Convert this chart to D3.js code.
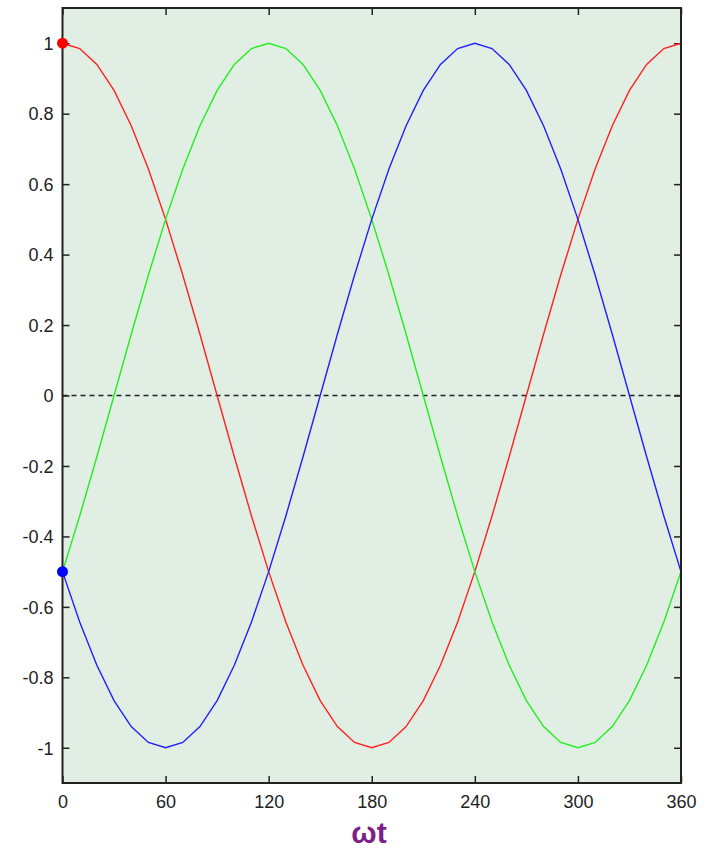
<!DOCTYPE html>
<html><head><meta charset="utf-8">
<script src="https://cdn.jsdelivr.net/npm/d3@7"></script>
<style>body{margin:0;background:#fff}</style>
</head><body>
<svg id="c" width="706" height="849"></svg>
<script>
const angles = [0,10,20,30,40,50,60,70,80,90,100,110,120,130,140,150,160,170,180,190,200,210,220,230,240,250,260,270,280,290,300,310,320,330,340,350,360];
const redVals = [1,0.985,0.94,0.866,0.766,0.643,0.5,0.342,0.174,0,-0.174,-0.342,-0.5,-0.643,-0.766,-0.866,-0.94,-0.985,-1,-0.985,-0.94,-0.866,-0.766,-0.643,-0.5,-0.342,-0.174,0,0.174,0.342,0.5,0.643,0.766,0.866,0.94,0.985,1];
const greenVals = [-0.5,-0.342,-0.174,0,0.174,0.342,0.5,0.643,0.766,0.866,0.94,0.985,1,0.985,0.94,0.866,0.766,0.643,0.5,0.342,0.174,0,-0.174,-0.342,-0.5,-0.643,-0.766,-0.866,-0.94,-0.985,-1,-0.985,-0.94,-0.866,-0.766,-0.643,-0.5];
const blueVals = [-0.5,-0.643,-0.766,-0.866,-0.94,-0.985,-1,-0.985,-0.94,-0.866,-0.766,-0.643,-0.5,-0.342,-0.174,0,0.174,0.342,0.5,0.643,0.766,0.866,0.94,0.985,1,0.985,0.94,0.866,0.766,0.643,0.5,0.342,0.174,0,-0.174,-0.342,-0.5];
const xTicks = [0,60,120,180,240,300,360];
const yTicks = [-1,-0.8,-0.6,-0.4,-0.2,0,0.2,0.4,0.6,0.8,1];
const markers = [{a:0,v:1,c:"#ff0000"},{a:0,v:-0.5,c:"#0000ff"}];
const xLabel = "ωt";

const L=62.5,R=681,T=8,B=783;
const FONT="Arial, 'Liberation Sans', sans-serif";
const svg=d3.select("#c");
const x=d3.scaleLinear().domain([0,360]).range([L,R]);
const y=d3.scaleLinear().domain([-1.1,1.1]).range([B,T]);

svg.append("rect").attr("x",L).attr("y",T).attr("width",R-L).attr("height",B-T).attr("fill","#e1eee3");

const fmt=d=>d===0?"0":String(d);
const tickStyle=g=>{g.select(".domain").remove();g.selectAll(".tick line").attr("stroke","#222").attr("stroke-width",1.5);g.selectAll(".tick text").attr("fill","#222").attr("font-family",FONT).attr("font-size",18);};
const gx=svg.append("g").attr("transform",`translate(0,${B})`).call(d3.axisBottom(x).tickValues(xTicks).tickFormat(fmt).tickSizeInner(-7).tickSizeOuter(0)).call(tickStyle);
gx.selectAll(".tick text").attr("y",25).attr("dy",null);
svg.append("g").attr("transform",`translate(0,${T})`).call(d3.axisTop(x).tickValues(xTicks).tickFormat("").tickSizeInner(-7).tickSizeOuter(0)).call(tickStyle);
const gy=svg.append("g").attr("transform",`translate(${L},0)`).call(d3.axisLeft(y).tickValues(yTicks).tickFormat(fmt).tickSizeInner(-7).tickSizeOuter(0)).call(tickStyle);
gy.selectAll(".tick text").attr("x",-9).attr("dy","0.35em");
svg.append("g").attr("transform",`translate(${R},0)`).call(d3.axisRight(y).tickValues(yTicks).tickFormat("").tickSizeInner(-7).tickSizeOuter(0)).call(tickStyle);

svg.append("line").attr("x1",x(0)).attr("x2",x(360)).attr("y1",y(0)).attr("y2",y(0)).attr("stroke","#222").attr("stroke-width",1.5).attr("stroke-dasharray","5,4");

const line=d3.line().x((d,i)=>x(angles[i])).y(d=>y(d));
[[redVals,"#ff2020"],[greenVals,"#20ee20"],[blueVals,"#2020ff"]].forEach(([v,c])=>{
  svg.append("path").attr("d",line(v)).attr("fill","none").attr("stroke",c).attr("stroke-width",1.4);
});

svg.append("rect").attr("x",L).attr("y",T).attr("width",R-L).attr("height",B-T).attr("fill","none").attr("stroke","#222").attr("stroke-width",2);

svg.selectAll(".mk").data(markers).enter().append("circle").attr("cx",d=>x(d.a)).attr("cy",d=>y(d.v)).attr("r",5.5).attr("fill",d=>d.c);

svg.append("text").attr("x",369).attr("y",843).attr("text-anchor","middle").attr("fill","#7e1e88").attr("font-family",FONT).attr("font-weight","bold").attr("font-size",30).text(xLabel);
</script>
</body></html>
